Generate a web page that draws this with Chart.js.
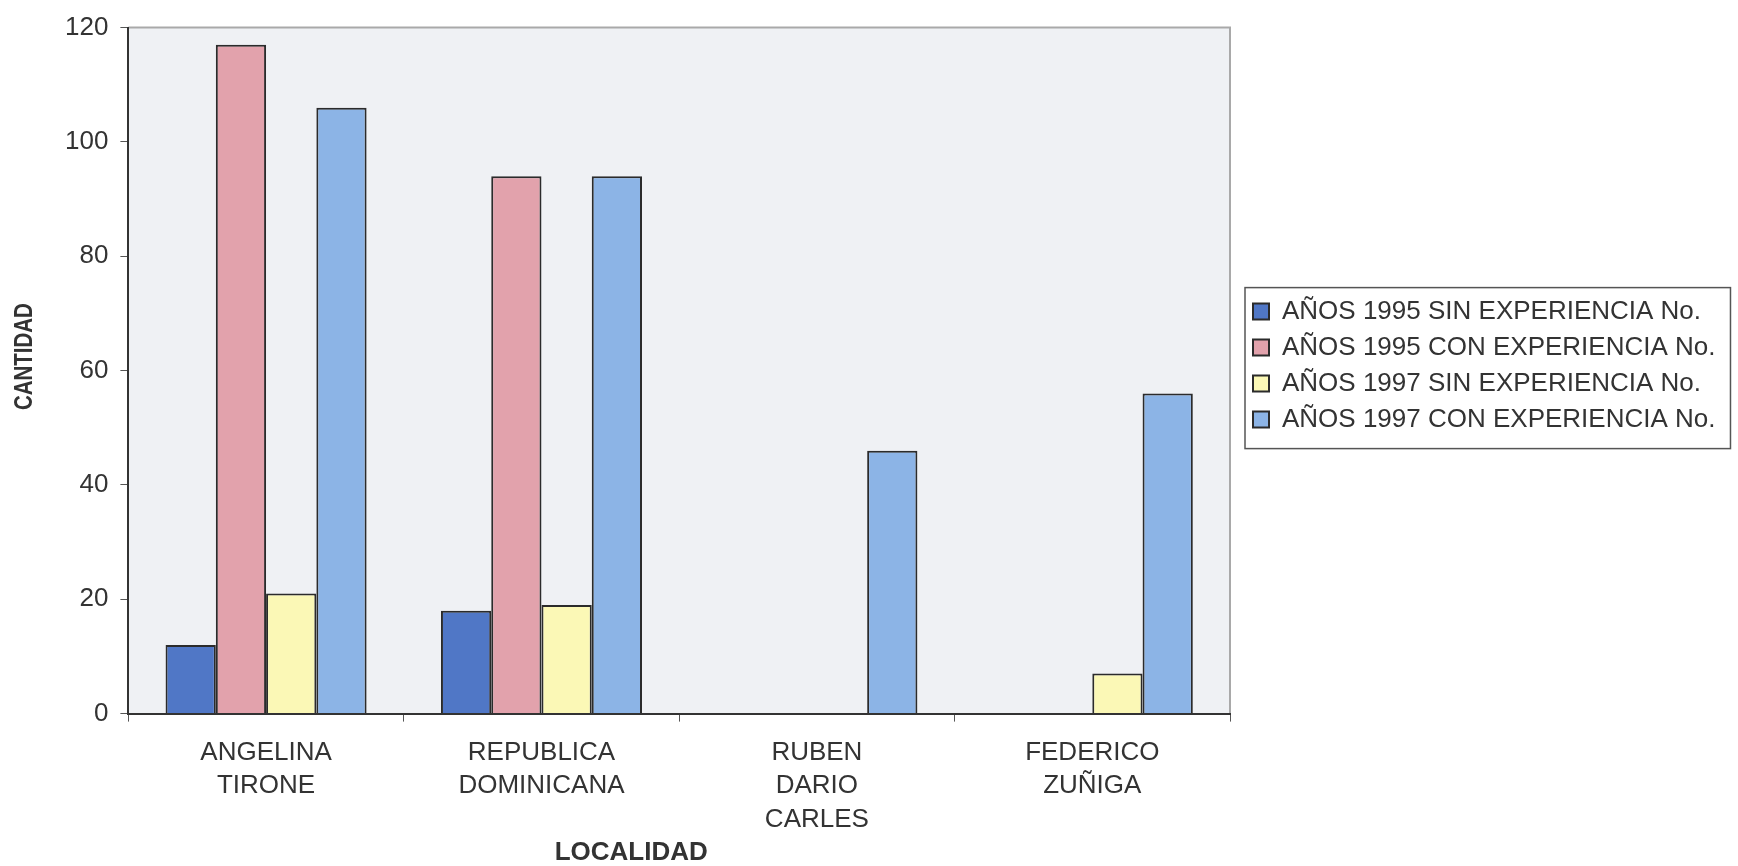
<!DOCTYPE html>
<html>
<head>
<meta charset="utf-8">
<script src="https://cdn.jsdelivr.net/npm/chart.js@4.4.1/dist/chart.umd.min.js"></script>
<style>
  html, body { margin: 0; padding: 0; background: #ffffff; }
  #wrap { width: 1738px; height: 866px; position: relative; }
</style>
</head>
<body>
<div id="wrap"><canvas id="c" width="1738" height="866"></canvas></div>
<script>
// ---- data ----
const categories = [
  ['ANGELINA', 'TIRONE'],
  ['REPUBLICA', 'DOMINICANA'],
  ['RUBEN', 'DARIO', 'CARLES'],
  ['FEDERICO', 'ZUÑIGA']
];
const seriesNames = [
  'AÑOS 1995 SIN EXPERIENCIA No.',
  'AÑOS 1995 CON EXPERIENCIA No.',
  'AÑOS 1997 SIN EXPERIENCIA No.',
  'AÑOS 1997 CON EXPERIENCIA No.'
];
const sin1995 = [12, 18, 0, 0];
const con1995 = [117, 94, 0, 0];
const sin1997 = [21, 19, 0, 7];
const con1997 = [106, 94, 46, 56];
const yTicks = [0, 20, 40, 60, 80, 100, 120];
const xTitle = 'LOCALIDAD';
const yTitle = 'CANTIDAD';

const FONT = '"Liberation Sans", Arial, sans-serif';
const TEXT = '#333333';
const colors = ['#5077c6', '#e2a2ac', '#fbf8b6', '#8cb4e6'];
const seriesData = [sin1995, con1995, sin1997, con1997];

const plotBg = {
  id: 'plotBg',
  afterLayout(chart) {
    // let the legend use the full space to the right edge and nudge it up a little
    const lg = chart.legend;
    lg.top -= 5; lg.bottom -= 5;
    lg.right = chart.width - 2;
    lg.width = lg.right - lg.left;
  },
  beforeDraw(chart) {
    const ctx = chart.ctx, a = chart.chartArea;
    ctx.save();
    ctx.fillStyle = '#ffffff';
    ctx.fillRect(0, 0, chart.width, chart.height);
    ctx.fillStyle = '#eff1f4';
    ctx.fillRect(a.left, a.top, a.right - a.left, a.bottom - a.top);
    ctx.strokeStyle = '#a9a9a9';
    ctx.lineWidth = 2;
    ctx.beginPath();
    ctx.moveTo(a.left, a.top);
    ctx.lineTo(a.right, a.top);
    ctx.lineTo(a.right, a.bottom);
    ctx.stroke();
    ctx.restore();
  },
  afterDraw(chart) {
    const ctx = chart.ctx, a = chart.chartArea;
    ctx.save();
    // legend frame
    const hb = chart.legend.legendHitBoxes;
    if (hb && hb.length) {
      let l = Infinity, r = -Infinity, t = Infinity, b = -Infinity;
      hb.forEach(h => { l = Math.min(l, h.left); r = Math.max(r, h.left + h.width); t = Math.min(t, h.top); b = Math.max(b, h.top + h.height); });
      ctx.strokeStyle = '#555555';
      ctx.lineWidth = 1.5;
      ctx.strokeRect(l - 8, t - 11, (r - l) + 23, (b - t) + 27);
    }
    // axis titles
    ctx.fillStyle = TEXT;
    ctx.textAlign = 'center';
    ctx.textBaseline = 'middle';
    ctx.font = 'bold 26px ' + FONT;
    ctx.fillText(xTitle, (a.left + a.right) / 2 - 48, 853);
    ctx.font = 'bold 25px ' + FONT;
    ctx.translate(25, (a.top + a.bottom) / 2 - 14);
    ctx.rotate(-Math.PI / 2);
    ctx.scale(0.82, 1);   // condensed look of the original vertical title
    ctx.fillText(yTitle, 0, 0);
    ctx.restore();
  }
};

new Chart(document.getElementById('c'), {
  type: 'bar',
  data: {
    labels: categories,
    datasets: seriesNames.map((n, i) => ({
      label: n,
      data: seriesData[i],
      backgroundColor: colors[i],
      borderColor: '#2b2b2b',
      borderWidth: 2,
      borderSkipped: 'bottom',
      barPercentage: 1.0,
      categoryPercentage: 0.73
    }))
  },
  options: {
    responsive: false,
    animation: false,
    devicePixelRatio: 1,
    layout: { padding: { left: 53, right: 295, top: 25, bottom: 15 } },
    plugins: {
      legend: {
        position: 'right',
        fullSize: false,
        maxWidth: 200,
        labels: {
          font: { family: FONT, size: 26 },
          color: TEXT,
          boxWidth: 16,
          boxHeight: 16,
          padding: 10
        }
      },
      tooltip: { enabled: false }
    },
    scales: {
      x: {
        grid: { display: true, drawOnChartArea: false, drawTicks: true, tickLength: 8, color: '#555555', offset: true },
        border: { display: true, color: '#333333', width: 2 },
        ticks: { font: { family: FONT, size: 26, lineHeight: 1.3 }, color: TEXT, padding: 14, maxRotation: 0, autoSkip: false }
      },
      y: {
        min: 0, max: 120,
        afterBuildTicks(scale) { scale.ticks = yTicks.map(v => ({ value: v })); },
        grid: { display: true, drawOnChartArea: false, drawTicks: true, tickLength: 8, color: '#555555' },
        border: { display: true, color: '#333333', width: 2 },
        ticks: { font: { family: FONT, size: 26 }, color: TEXT, padding: 12 }
      },
      gap: {
        type: 'linear',
        position: 'right',
        display: true,
        grid: { display: false },
        border: { display: false },
        ticks: { display: false },
        afterFit(scale) { scale.width = 13; }
      }
    }
  },
  plugins: [plotBg]
});
</script>
</body>
</html>
